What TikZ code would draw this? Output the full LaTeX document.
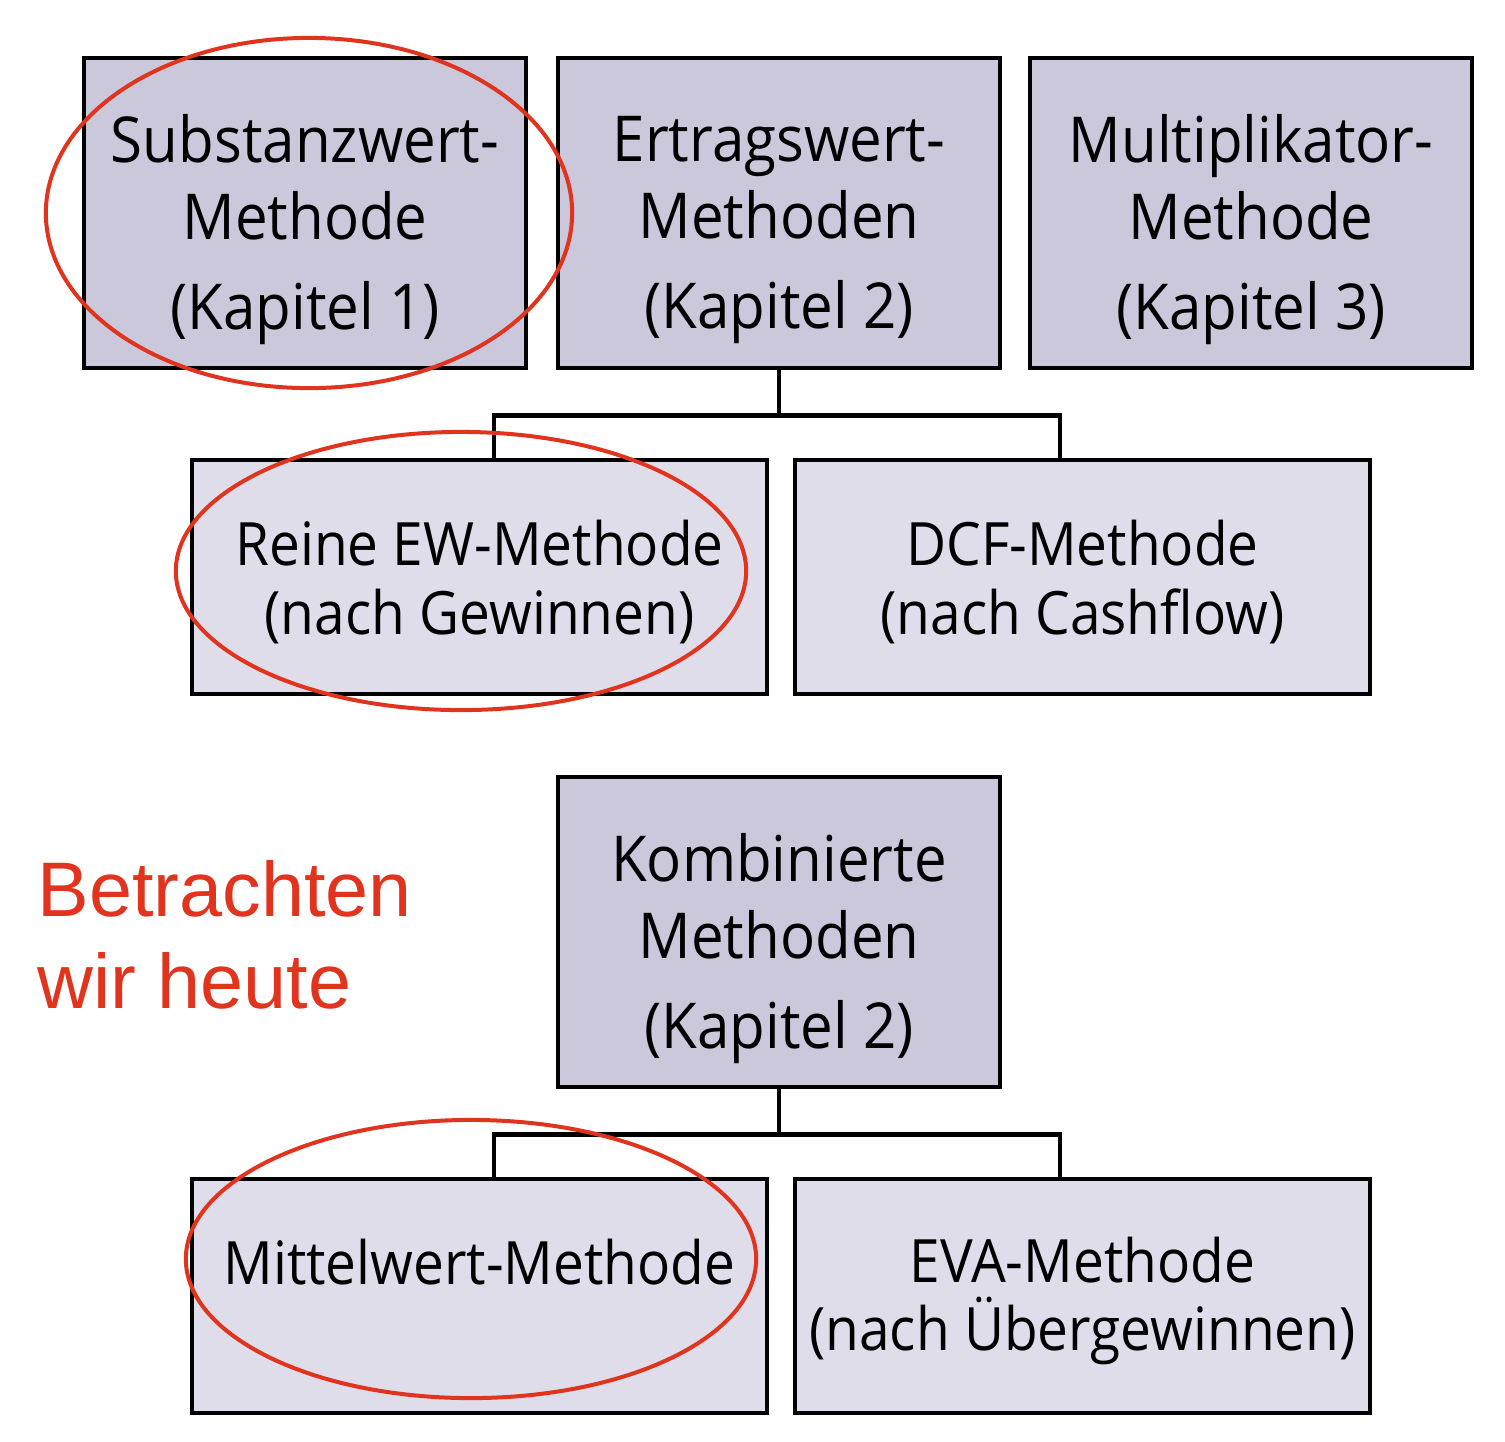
\documentclass[tikz,border=0pt]{standalone}
\usepackage{fontspec}
\setmainfont{Open Sans}[FakeStretch=0.92]
\newfontfamily\notefont{Liberation Sans}
\usetikzlibrary{calc}
\definecolor{mtdark}{HTML}{CBC8DC}
\definecolor{mtlight}{HTML}{DFDDEA}
\definecolor{mtred}{HTML}{E1341E}

\begin{document}
\begin{tikzpicture}[x=0.01cm,y=-0.01cm,
    mainbox/.style={draw=black,line width=0.044cm,fill=mtdark,minimum width=4.42cm,minimum height=3.10cm,inner sep=0pt},
    subbox/.style={draw=black,line width=0.044cm,fill=mtlight,minimum width=5.75cm,minimum height=2.34cm,inner sep=0pt},
    maintext/.style={align=center,inner sep=0pt,font=\fontsize{18}{21.9}\selectfont},
    subtext/.style={align=center,inner sep=0pt,font=\fontsize{17}{19.4}\selectfont},
    tree/.style={draw=black,line width=0.044cm},
    ringmark/.style={draw=mtred,line width=0.04cm},
    notetext/.style={text=mtred,align=left,inner sep=0pt,font=\notefont\fontsize{22}{26.2}\selectfont}]
  \useasboundingbox (0,0) rectangle (1505,1441);
  % top row
  \node[mainbox] (subst) at (305,213) {};
  \node[mainbox] (ertrag) at (779,213) {};
  \node[mainbox] (multi) at (1251,213) {};
  \node[maintext] (substtxt) at ($(subst)+(0,17)$) {Substanzwert-\\Methode\\[0.13cm](Kapitel 1)};
  \node[maintext] (ertragtxt) at ($(ertrag)+(0,17)$) {Ertragswert-\\Methoden\\[0.13cm](Kapitel 2)};
  \node[maintext] (multitxt) at ($(multi)+(0,17)$) {Multiplikator-\\Methode\\[0.13cm](Kapitel 3)};
  % ertragswert children
  \node[subbox] (reine) at (479.5,577) {};
  \node[subbox] (dcf) at (1082.5,577) {};
  \node[subtext] (reinetxt) at ($(reine)+(0,5)$) {Reine EW-Methode\\(nach Gewinnen)};
  \node[subtext] (dcftxt) at ($(dcf)+(0,5)$) {DCF-Methode\\(nach Cashflow)};
  \draw[tree] (ertrag.south) -- ++(0,45) coordinate (fork1);
  \draw[tree] ($(reine.north)+(14.5,0)$) |- (fork1) -| ($(dcf.north)+(-22.5,0)$);
  % kombinierte methoden
  \node[mainbox] (komb) at (779,932) {};
  \node[maintext] (kombtxt) at ($(komb)+(0,17)$) {Kombinierte\\Methoden\\[0.13cm](Kapitel 2)};
  \node[subbox] (mittel) at (479.5,1296) {};
  \node[subbox] (eva) at (1082.5,1296) {};
  \node[subtext,anchor=base] (mitteltxt) at (479.5,1284) {Mittelwert-Methode};
  \node[subtext] (evatxt) at ($(eva)+(0,5)$) {EVA-Methode\\(nach Übergewinnen)};
  \draw[tree] (komb.south) -- ++(0,45) coordinate (fork2);
  \draw[tree] ($(mittel.north)+(14.5,0)$) |- (fork2) -| ($(eva.north)+(-22.5,0)$);
  % markings
  \draw[ringmark] (309,213) ellipse [x radius=2.63cm,y radius=1.75cm];
  \draw[ringmark] (461,571) ellipse [x radius=2.85cm,y radius=1.39cm];
  \draw[ringmark] (471,1259) ellipse [x radius=2.85cm,y radius=1.39cm];
  \node[notetext,anchor=north west] (heute) at (37,860) {Betrachten\\wir heute};
\end{tikzpicture}
\end{document}
